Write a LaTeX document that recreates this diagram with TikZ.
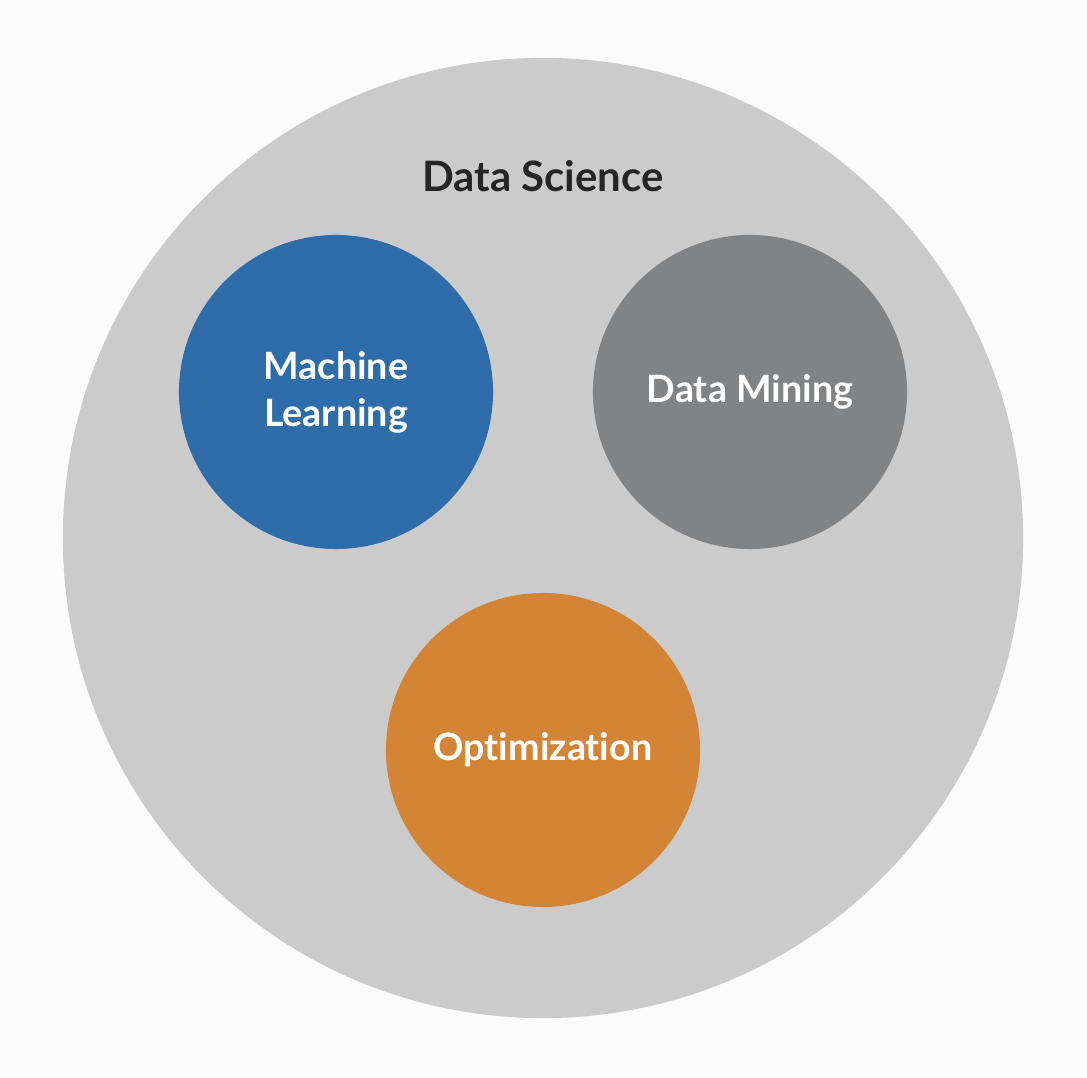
\documentclass[tikz,border=0pt]{standalone}
\usepackage{fontspec}
\setmainfont{Lato}[Ligatures={NoCommon}]
\usetikzlibrary{calc}

\definecolor{bgwhite}{HTML}{FBFBFB}
\definecolor{dsgrey}{HTML}{CBCBCB}
\definecolor{mlblue}{HTML}{2E6DAA}
\definecolor{dmgrey}{HTML}{828385}
\definecolor{optorange}{HTML}{D38535}
\definecolor{labeldark}{HTML}{262626}

\begin{document}
\begin{tikzpicture}[x=0.025cm, y=0.025cm,
        field/.style={circle, draw=none, inner sep=0pt, minimum size=7.85cm,
            text=white, align=center, font=\bfseries\fontsize{26.8}{33.5}\selectfont}]
        % Define coordinates
        \coordinate (ds) at (543,540);
        \coordinate (ml) at (336,686);
        \coordinate (dm) at (750,686);
        \coordinate (opt) at (543,328);

        % Background, fixes the margins
        \fill[bgwhite] (0,0) rectangle (1087,1078);

        % Outer circle and its title
        \node[circle, fill=dsgrey, inner sep=0pt, minimum size=24cm] (science) at (ds) {};
        \node[anchor=base, text=labeldark, font=\bfseries\fontsize{29.8}{36}\selectfont] (title) at (543,886) {Data Science};

        % Inner circles
        \node[field, fill=mlblue] (learning) at (ml) {Machine\\Learning};
        \node[field, fill=dmgrey] (mining) at (dm) {Data Mining};
        \node[field, fill=optorange] (optimization) at (opt) {Optimization};
    \end{tikzpicture}
\end{document}
